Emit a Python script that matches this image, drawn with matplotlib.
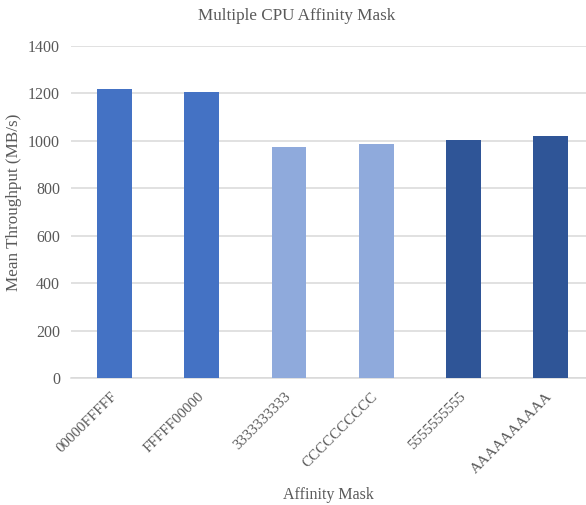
import matplotlib

matplotlib.use("Agg")
import matplotlib.pyplot as plt

masks = ["00000FFFFF", "FFFFF00000", "3333333333", "CCCCCCCCCC", "5555555555", "AAAAAAAAAA"]
throughput = [1219, 1207, 975, 985, 1004, 1021]
bar_colors = ["#4472C4", "#4472C4", "#8FAADC", "#8FAADC", "#2F5597", "#2F5597"]
y_ticks = [0, 200, 400, 600, 800, 1000, 1200, 1400]

plt.rcParams["font.family"] = ["Liberation Serif", "DejaVu Serif"]
text_color = "#595959"

fig = plt.figure(figsize=(5.86, 5.05), dpi=100)
ax = fig.add_axes([0.1212, 0.2515, 0.8925, 0.6574])

positions = range(len(masks))
ax.bar(positions, throughput, width=0.40, color=bar_colors, zorder=3)

ax.set_xlim(-0.5, len(masks) - 0.5)
ax.set_ylim(0, 1400)
ax.set_yticks(y_ticks)
ax.set_xticks(list(positions))
ax.set_xticklabels(masks, rotation=45, ha="right", va="center", rotation_mode="anchor")
ax.tick_params(axis="both", length=0, colors=text_color)
ax.tick_params(axis="y", labelsize=11.5, pad=8)
ax.tick_params(axis="x", labelsize=10.8, pad=12)

ax.yaxis.grid(True, color="#D9D9D9", linewidth=1.1, zorder=0)
for side in ["top", "right", "left"]:
    ax.spines[side].set_visible(False)
ax.spines["bottom"].set_color("#D9D9D9")
ax.spines["bottom"].set_linewidth(1.1)

fig.text(297 / 586, 1 - 16 / 505, "Multiple CPU Affinity Mask", fontsize=12.3,
         color=text_color, ha="center", va="center")
ax.set_ylabel("Mean Throughput (MB/s)", fontsize=12.3, color=text_color)
ax.yaxis.set_label_coords(-0.094, 0.53)
fig.text(328 / 586, 1 - 495 / 505, "Affinity Mask", fontsize=11.5,
         color=text_color, ha="center", va="center")

fig.savefig("out.png", dpi=100)
